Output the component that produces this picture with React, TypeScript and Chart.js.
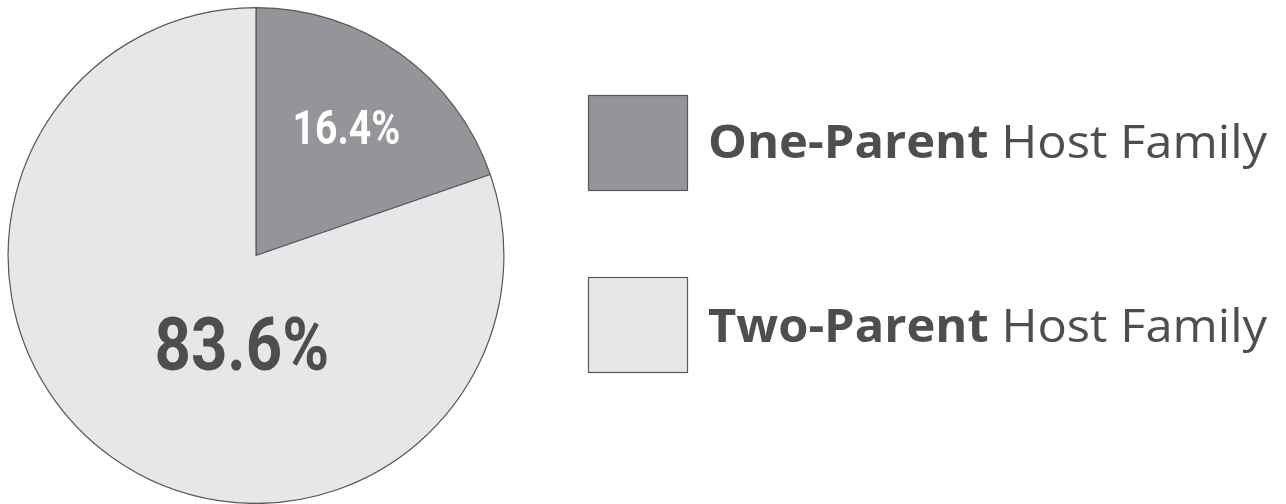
import React, { useEffect, useRef } from "react";
import { Chart, registerables } from "chart.js";

Chart.register(...registerables);

// Category names (legend: bold part + regular part)
const categoryBold = ["One-Parent", "Two-Parent"];
const categoryRest = ["Host Family", "Host Family"];
// Slice shares as drawn in the picture (percent of the circle)
const drawnShares = [19.7, 80.3];
// Printed percentage labels
const printedLabels = ["16.4%", "83.6%"];
const sliceColors = ["#939598", "#e6e7e8"];
const labelColors = ["#ffffff", "#4d4e50"];

const TEXT_COLOR = "#4d4e50";
const EDGE_COLOR = "#58595b";

function drawFitted(
  ctx: CanvasRenderingContext2D,
  text: string,
  font: string,
  left: number,
  baseline: number,
  targetWidth: number,
  color: string
) {
  ctx.save();
  ctx.font = font;
  ctx.fillStyle = color;
  ctx.textBaseline = "alphabetic";
  ctx.textAlign = "left";
  const m = ctx.measureText(text);
  const w = m.actualBoundingBoxLeft + m.actualBoundingBoxRight;
  const s = targetWidth / w;
  ctx.translate(left, baseline);
  ctx.scale(s, 1);
  ctx.fillText(text, m.actualBoundingBoxLeft, 0);
  ctx.restore();
}

const overlayPlugin = {
  id: "overlay",
  afterDraw(chart: any) {
    const ctx: CanvasRenderingContext2D = chart.ctx;
    const meta = chart.getDatasetMeta(0);
    const arc = meta.data[0];
    const cx = arc.x;
    const cy = arc.y;
    // percentage labels (condensed bold look)
    drawFitted(ctx, printedLabels[0], "bold 48px Roboto", cx + 39, cy - 112, 104, labelColors[0]);
    drawFitted(ctx, printedLabels[1], "bold 75px Roboto", cx - 99, cy + 114, 170, labelColors[1]);

    // legend
    const boxes = [
      { x: 588, y: 95, baseline: 158 },
      { x: 588, y: 277, baseline: 342 },
    ];
    boxes.forEach((b, i) => {
      ctx.save();
      ctx.fillStyle = sliceColors[i];
      ctx.fillRect(b.x, b.y, 100, 96);
      ctx.strokeStyle = EDGE_COLOR;
      ctx.lineWidth = 1.2;
      ctx.strokeRect(b.x + 0.5, b.y + 0.5, 99, 95);
      ctx.restore();

      const boldFont = "bold 46px 'Open Sans'";
      const regFont = "46px 'Open Sans'";
      ctx.save();
      ctx.font = boldFont;
      const mb = ctx.measureText(categoryBold[i]);
      const wb = mb.width;
      ctx.font = regFont;
      const wsp = ctx.measureText(" ").width;
      const mr = ctx.measureText(categoryRest[i]);
      const total = wb + wsp + mr.actualBoundingBoxRight;
      const s = (1268 - 708) / total;
      ctx.translate(708, b.baseline);
      ctx.scale(s, 1);
      ctx.fillStyle = TEXT_COLOR;
      ctx.textBaseline = "alphabetic";
      ctx.font = boldFont;
      ctx.fillText(categoryBold[i], 0, 0);
      ctx.font = regFont;
      ctx.fillText(categoryRest[i], wb + wsp, 0);
      ctx.restore();
    });
  },
};

export default function App() {
  const ref = useRef<HTMLCanvasElement | null>(null);
  useEffect(() => {
    if (!ref.current) return;
    const chart = new Chart(ref.current, {
      type: "pie",
      data: {
        labels: categoryBold.map((b, i) => b + " " + categoryRest[i]),
        datasets: [
          {
            data: drawnShares,
            backgroundColor: sliceColors,
            borderColor: EDGE_COLOR,
            borderWidth: 1.2,
          },
        ],
      },
      options: {
        animation: false,
        responsive: false,
        maintainAspectRatio: false,
        layout: { padding: { left: 7, top: 7, right: 781, bottom: 0 } },
        plugins: {
          legend: { display: false },
          tooltip: { enabled: false },
        },
      },
      plugins: [overlayPlugin],
    });
    return () => chart.destroy();
  }, []);
  return (
    <div style={{ position: "absolute", left: 0, top: 0, width: 1286, height: 504, background: "#ffffff" }}>
      <canvas ref={ref} width={1286} height={504} style={{ width: 1286, height: 504 }} />
    </div>
  );
}
